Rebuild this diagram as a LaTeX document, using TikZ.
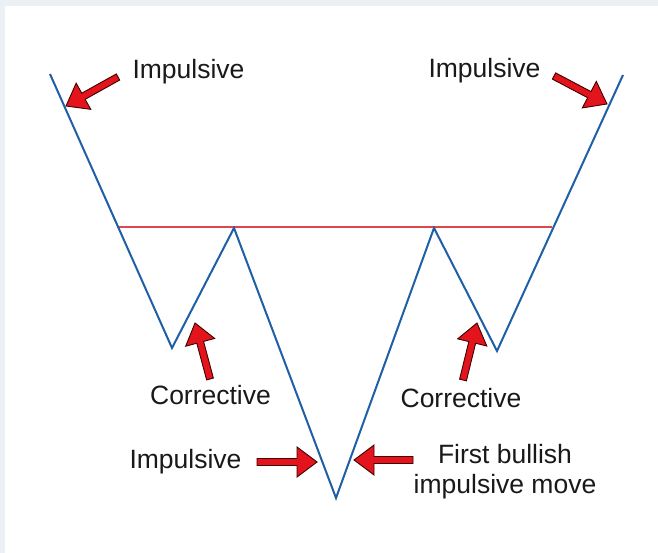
\documentclass[tikz,border=0pt]{standalone}
\usepackage{fontspec}
\setmainfont{Liberation Sans}
\usetikzlibrary{calc}
\definecolor{bluel}{HTML}{1E5FA6}
\definecolor{redl}{HTML}{E0474C}
\definecolor{redf}{HTML}{E3141C}
\definecolor{framec}{HTML}{EBF0F5}
\tikzset{
 zig/.style={draw=bluel, line width=2pt, line join=miter},
 levelline/.style={draw=redl, line width=2.6pt},
 barrow/.style={fill=redf, draw=black!75!red, line width=0.9pt, line join=miter},
 lbl/.style={font=\fontsize{26.5}{30}\selectfont, text=black!90, inner sep=0pt, anchor=base},
}
\newcommand\blockarrow[2]{%
 \draw[barrow] let \p1=($(#2)-(#1)$), \n1={atan2(\y1,\x1)}, \n3={veclen(\x1,\y1)-20} in
 ($(#1)+(\n1+90:3.5pt)$) -- ++(\n1:\n3) -- ++(\n1+90:11.5pt) -- (#2)
 -- ($(#1)+(\n1:\n3)+(\n1-90:15pt)$) -- ++(\n1+90:11.5pt) -- ++(\n1+180:\n3) -- cycle;}
\begin{document}
\begin{tikzpicture}[x=1pt,y=-1pt]
\fill[framec] (0,0) rectangle (658,553);
\fill[white] (5,6) rectangle (658,553);
\useasboundingbox (0,0) rectangle (658,553);
% zigzag points
\coordinate (p0) at (50,74);
\coordinate (p1) at (172,348);
\coordinate (p2) at (234,228);
\coordinate (p3) at (336,498);
\coordinate (p4) at (434,228);
\coordinate (p5) at (497,351);
\coordinate (p6) at (623,75);
\coordinate (r0) at (117,227);
\coordinate (r1) at (552,227);
\draw[levelline] (r0) -- (r1);
\draw[zig] (p0) -- (p1) -- (p2) -- (p3) -- (p4) -- (p5) -- (p6);
% labels
\node[lbl] (t1) at (188.5,79) {Impulsive};
\node[lbl] (t2) at (484.5,78) {Impulsive};
\node[lbl] (t3) at (210.5,404) {Corrective};
\node[lbl] (t4) at (461,407) {Corrective};
\node[lbl] (t5) at (185.5,468) {Impulsive};
\node[lbl, align=center] (t6) at (505,493) {First bullish\\impulsive move};
% arrows
\coordinate (a1s) at (118,77);  \coordinate (a1e) at (66,106);
\coordinate (a2s) at (554,76);  \coordinate (a2e) at (607,104);
\coordinate (a3s) at (210,379); \coordinate (a3e) at (195,323);
\coordinate (a4s) at (463,380); \coordinate (a4e) at (477,323);
\coordinate (a5s) at (257,462); \coordinate (a5e) at (317,462);
\coordinate (a6s) at (413,460); \coordinate (a6e) at (354,460);
\blockarrow{a1s}{a1e}
\blockarrow{a2s}{a2e}
\blockarrow{a3s}{a3e}
\blockarrow{a4s}{a4e}
\blockarrow{a5s}{a5e}
\blockarrow{a6s}{a6e}
\end{tikzpicture}
\end{document}
